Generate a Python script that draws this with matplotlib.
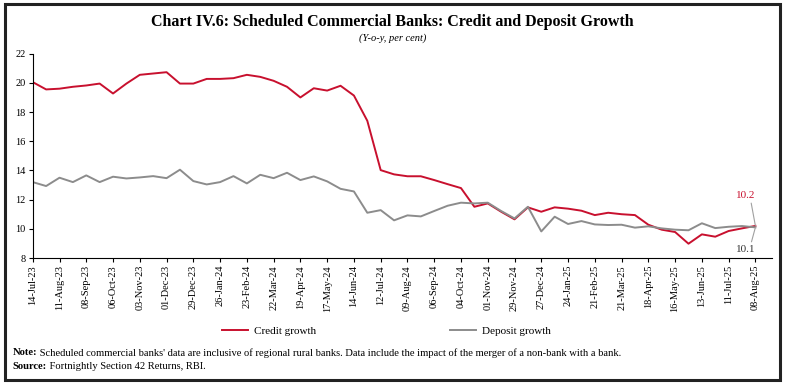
import matplotlib
matplotlib.use('Agg')
import matplotlib.pyplot as plt
import matplotlib.dates as mdates
from matplotlib.patches import Rectangle
import pandas as pd

plt.rcParams['font.family'] = ['Liberation Serif', 'DejaVu Serif']

# fortnightly reporting dates, 14-Jul-23 .. 08-Aug-25
dates = pd.date_range('2023-07-14', '2025-08-08', freq='14D')

credit = [20.05, 19.55, 19.6, 19.73, 19.82, 19.95, 19.27, 19.95, 20.55, 20.64,
          20.73, 19.95, 19.95, 20.27, 20.27, 20.32, 20.55, 20.41, 20.14, 19.73,
          19.0, 19.63, 19.47, 19.8, 19.13, 17.4, 14.02, 13.73, 13.6, 13.6,
          13.34, 13.06, 12.79, 11.51, 11.74, 11.17, 10.65, 11.47, 11.17, 11.47,
          11.38, 11.24, 10.94, 11.1, 11.0, 10.94, 10.28, 9.94, 9.78, 8.98,
          9.62, 9.46, 9.85, 10.03, 10.2]
deposit = [13.2, 12.93, 13.5, 13.2, 13.66, 13.2, 13.57, 13.45, 13.52, 13.61,
           13.47, 14.05, 13.27, 13.04, 13.2, 13.61, 13.11, 13.7, 13.47, 13.84,
           13.34, 13.59, 13.25, 12.74, 12.56, 11.1, 11.28, 10.58, 10.92, 10.85,
           11.22, 11.58, 11.79, 11.74, 11.79, 11.22, 10.71, 11.51, 9.82, 10.83,
           10.33, 10.53, 10.3, 10.26, 10.28, 10.08, 10.17, 10.03, 9.94, 9.9,
           10.38, 10.05, 10.14, 10.19, 10.1]

red = '#C8102E'
grey = '#8C8C8C'

fig = plt.figure(figsize=(7.85, 3.86), dpi=100)
ax = fig.add_axes([0.0417, 0.3316, 0.9413, 0.5294])

ax.plot(dates, credit, color=red, lw=1.4, label='Credit growth')
ax.plot(dates, deposit, color=grey, lw=1.4, label='Deposit growth')

ax.set_ylim(8, 22)
ax.set_yticks(range(8, 23, 2))
ax.set_xlim(dates[0], dates[-1] + pd.Timedelta(days=17))
ax.set_xticks(dates[::2])
ax.xaxis.set_major_formatter(mdates.DateFormatter('%d-%b-%y'))
ax.tick_params(axis='x', rotation=90, labelsize=7.5, length=3, pad=2)
ax.tick_params(axis='y', labelsize=7.5, length=3, pad=2)
for s in ['top', 'right']:
    ax.spines[s].set_visible(False)
for s in ['left', 'bottom']:
    ax.spines[s].set_linewidth(0.8)

# end-point annotations
ax.annotate(f'{credit[-1]:.1f}', xy=(dates[-1], credit[-1]),
            xytext=(dates[-1] - pd.Timedelta(days=10), 11.95), color=red,
            fontsize=8, ha='center', va='bottom',
            arrowprops=dict(arrowstyle='-', color='#A0A0A0', lw=0.8,
                            shrinkA=0, shrinkB=0, relpos=(0.75, 0.0)))
ax.annotate(f'{deposit[-1]:.1f}', xy=(dates[-1], deposit[-1]),
            xytext=(dates[-1] - pd.Timedelta(days=10), 8.3), color='#333333',
            fontsize=8, ha='center', va='bottom',
            arrowprops=dict(arrowstyle='-', color='#A0A0A0', lw=0.8,
                            shrinkA=0, shrinkB=0, relpos=(0.75, 1.0)))

fig.legend(loc='center', bbox_to_anchor=(0.492, 0.143), ncol=2, frameon=False,
           fontsize=8, handlelength=2.4, columnspacing=12, handletextpad=0.5)

fig.text(0.5, 0.942, 'Chart IV.6: Scheduled Commercial Banks: Credit and Deposit Growth',
         ha='center', va='center', fontsize=11.5, fontweight='bold')
fig.text(0.5, 0.902, '(Y-o-y, per cent)', ha='center', va='center',
         fontsize=7.5, style='italic')

# footnotes: bold lead word, then plain text placed right after it
renderer = fig.canvas.get_renderer()
x0 = 0.016
for y, head, body in [(0.086, 'Note:', " Scheduled commercial banks' data are inclusive of regional rural banks. "
                       'Data include the impact of the merger of a non-bank with a bank.'),
                      (0.051, 'Source:', ' Fortnightly Section 42 Returns, RBI.')]:
    t = fig.text(x0, y, head, fontsize=7.6, fontweight='bold', va='center')
    bb = t.get_window_extent(renderer).transformed(fig.transFigure.inverted())
    fig.text(bb.x1, y, body, fontsize=7.6, va='center')

fig.add_artist(Rectangle((0.006, 0.015), 0.988, 0.975, transform=fig.transFigure,
                         fill=False, lw=2.2, edgecolor='#222222'))

fig.savefig('out.png', dpi=100)
